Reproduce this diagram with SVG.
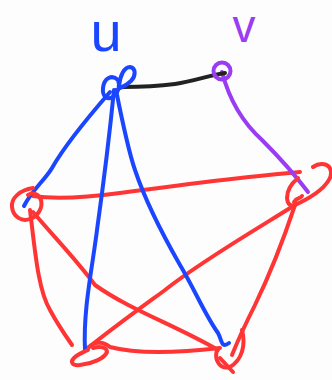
<svg xmlns="http://www.w3.org/2000/svg" width="332" height="380" viewBox="0 0 332 380">
<style>
.s{fill:none;stroke-width:4;stroke-linecap:round;stroke-linejoin:round}
.r{stroke:#ff3535}
.b{stroke:#1b46ff}
.p{stroke:#9a3cf2}
.k{stroke:#222}
.lbl{font-family:"Liberation Sans",Arial,sans-serif;}
</style>
<rect width="332" height="380" fill="#fdfdfd"/>
<g id="connectors">
  <path class="s r" d="M33,196 C60,200 90,197 120,193 C180,185 240,177 300,172"/>
  <path class="s r" d="M30,210 C35,250 38,290 50,310 C58,325 65,335 72,345"/>
  <path class="s r" d="M33,212 C55,238 75,258 95,285 C130,310 175,325 218,350"/>
  <path class="s r" d="M295,205 C255,230 200,262 165,290 C135,312 110,330 88,348"/>
  <path class="s r" d="M295,205 C285,235 272,270 255,305 C245,325 238,340 232,355"/>
  <path class="s r" d="M86,350 C92,342 102,340 110,347 C140,355 185,352 220,348"/>
  <path class="s b" d="M110,92 C90,115 65,145 52,168 C45,180 32,190 24,206"/>
  <path class="s b" d="M114,90 C110,130 104,180 97,230 C92,270 83,310 85,350"/>
  <path class="s b" d="M116,90 C122,120 128,150 135,170 C145,200 160,230 180,265 C195,290 205,315 218,333 C222,340 221,349 229,343"/>
  <path class="s p" d="M222,72 C228,95 240,120 262,140 C280,158 295,175 308,192"/>
  <path class="s k" d="M122,87 C145,87 160,86 175,84 C195,81 210,75 225,73"/>
</g>
<g id="node-u">
  <path class="s b" d="M118,80 C112,74 104,78 103,88 C102,97 108,101 114,96 C119,91 120,85 118,80"/>
  <path class="s b" d="M119,86 C120,76 124,67 130,67 C136,68 136,76 131,81 C127,85 123,87 120,88"/>
  <text class="lbl" x="106" y="51" font-size="56" fill="#1b46ff" text-anchor="middle">u</text>
</g>
<g id="node-v">
  <circle class="s p" cx="222" cy="71" r="8.5"/>
  <text class="lbl" x="244" y="42" font-size="46" fill="#9a3cf2" text-anchor="middle">v</text>
</g>
<g id="node-left">
  <path class="s r" d="M33,188 C20,190 11,198 12,207 C13,217 22,222 30,219 C38,216 43,208 41,200 C39,194 33,192 28,195"/>
</g>
<g id="node-right">
  <path class="s r" d="M313,167 C320,162 330,163 331,172 C332,182 318,193 305,200 C296,205 288,210 287,198 C287,190 292,183 298,178"/>
  <path class="s r" d="M294,202 C297,197 300,199 302,196"/>
</g>
<g id="node-bottom-left">
  <path class="s r" d="M93,348 C100,346 107,347 107,352 C105,358 92,364 80,365 C72,366 70,362 74,358 C78,354 84,352 88,350"/>
</g>
<g id="node-bottom-right">
  <path class="s r" d="M242,330 C246,345 242,360 230,367 C220,370 214,360 217,350"/>
  <path class="s r" d="M220,358 L233,372"/>
</g>
</svg>
